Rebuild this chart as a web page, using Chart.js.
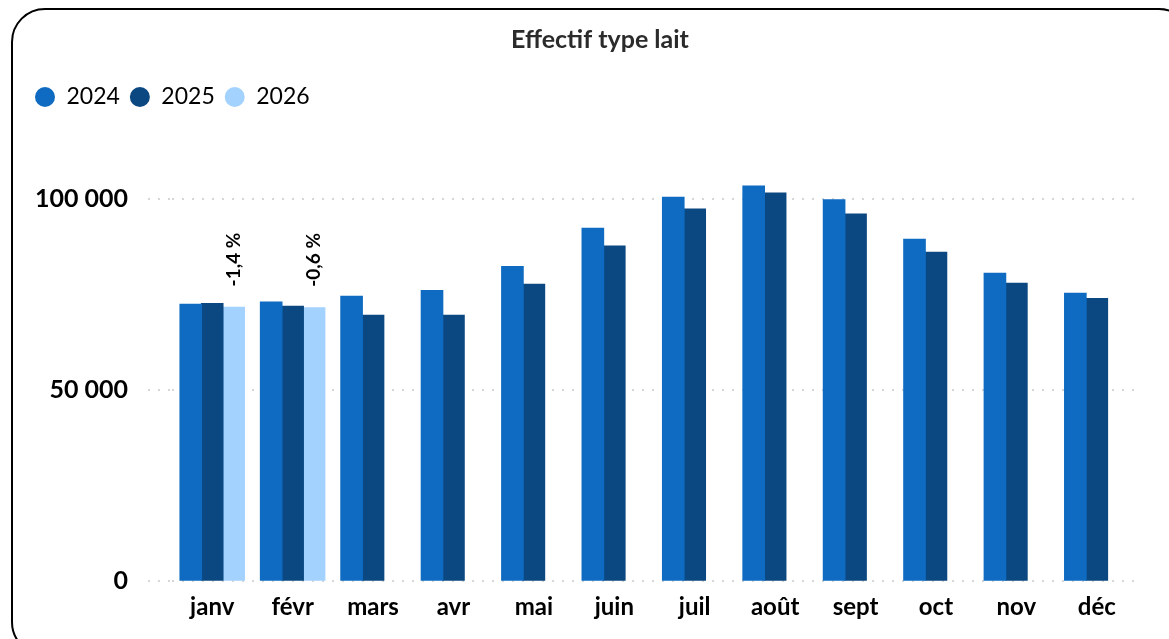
<!DOCTYPE html>
<html>
<head>
<meta charset="utf-8">
<script src="https://cdn.jsdelivr.net/npm/chart.js@4.4.1/dist/chart.umd.min.js"></script>
<style>
  html, body { margin: 0; padding: 0; background: #fff; overflow: hidden; }
  body { width: 1169px; height: 639px; position: relative; }
  .frame {
    position: absolute; left: 11px; top: 8px;
    width: 1178px; height: 644px;
    border: 2px solid #000; border-radius: 34px;
  }
  canvas { position: absolute; left: 0; top: 0; }
</style>
</head>
<body>
<div class="frame"></div>
<canvas id="effectifChart" width="1169" height="639"></canvas>
<script>
// data
const months = ['janv', 'févr', 'mars', 'avr', 'mai', 'juin', 'juil', 'août', 'sept', 'oct', 'nov', 'déc'];
const years = ['2024', '2025', '2026'];
const values2024 = [72400, 73000, 74500, 76000, 82300, 92300, 100400, 103300, 99700, 89400, 80500, 75300];
const values2025 = [72600, 71900, 69500, 69500, 77600, 87600, 97300, 101500, 96000, 86000, 77900, 73900];
const values2026 = [71600, 71500, null, null, null, null, null, null, null, null, null, null];
const changes2026 = ['-1,4 %', '-0,6 %'];
const yTicks = [0, 50000, 100000];

const colors = ['#0e6bc1', '#0b4881', '#a3d2ff'];

Chart.defaults.font.family = 'Lato';
Chart.defaults.color = '#000';

function formatNumber(v) {
  return String(v).replace(/\B(?=(\d{3})+(?!\d))/g, ' ');
}

// title drawn centred on the frame
const titlePlugin = {
  id: 'frameTitle',
  afterDraw(chart) {
    const ctx = chart.ctx;
    ctx.save();
    ctx.font = 'bold 25px Lato';
    ctx.fillStyle = '#2b2b2b';
    ctx.textAlign = 'center';
    ctx.textBaseline = 'middle';
    ctx.fillText('Effectif type lait', 600, 40);
    ctx.restore();
  }
};

// vertical change labels above the 2026 bars
const changeLabels = {
  id: 'changeLabels',
  afterDatasetsDraw(chart) {
    const ctx = chart.ctx;
    const meta = chart.getDatasetMeta(2);
    ctx.save();
    ctx.font = 'bold 19px Lato';
    ctx.fillStyle = '#000';
    ctx.textAlign = 'left';
    ctx.textBaseline = 'middle';
    changes2026.forEach((txt, i) => {
      const bar = meta.data[i];
      if (!bar || values2026[i] == null) return;
      ctx.save();
      ctx.translate(bar.x, bar.y - 21);
      ctx.rotate(-Math.PI / 2);
      ctx.fillText(txt, 0, 0);
      ctx.restore();
    });
    ctx.restore();
  }
};

const ctx = document.getElementById('effectifChart').getContext('2d');
const chart = new Chart(ctx, {
  type: 'bar',
  data: {
    labels: months,
    datasets: [
      { label: years[0], data: values2024, backgroundColor: colors[0] },
      { label: years[1], data: values2025, backgroundColor: colors[1] },
      { label: years[2], data: values2026, backgroundColor: colors[2] }
    ]
  },
  options: {
    responsive: false,
    animation: false,
    devicePixelRatio: 1,
    layout: { padding: { top: 75.5, left: 25, right: 32, bottom: 5 } },
    datasets: { bar: { categoryPercentage: 0.8, barPercentage: 1.0, inflateAmount: 0.6 } },
    plugins: {
      title: { display: false },
      tooltip: { enabled: false },
      legend: {
        position: 'top',
        align: 'start',
        labels: {
          usePointStyle: true,
          pointStyle: 'circle',
          boxHeight: 14,
          pointStyleWidth: 20,
          padding: 10,
          color: '#000',
          font: { size: 23 }
        }
      }
    },
    scales: {
      x: {
        grid: { display: false, drawTicks: false },
        border: { display: false },
        ticks: { padding: 12, maxRotation: 0, font: { size: 24, weight: 'bold' }, color: '#000' }
      },
      y: {
        min: 0,
        max: 121000,
        afterFit(scale) { scale.width = 147; },
        afterBuildTicks(scale) {
          scale.ticks = yTicks.map(v => ({ value: v }));
        },
        grid: {
          color: '#d6d6d6',
          lineWidth: 2,
          tickLength: 24,
          tickColor: '#d6d6d6',
          tickBorderDash: [2, 8],
          tickWidth: 2
        },
        border: { display: false, dash: [2, 8] },
        ticks: {
          padding: 20,
          font: { size: 25, weight: 'bold' },
          color: '#000',
          callback: v => formatNumber(v)
        }
      }
    }
  },
  plugins: [titlePlugin, changeLabels]
});
</script>
</body>
</html>
